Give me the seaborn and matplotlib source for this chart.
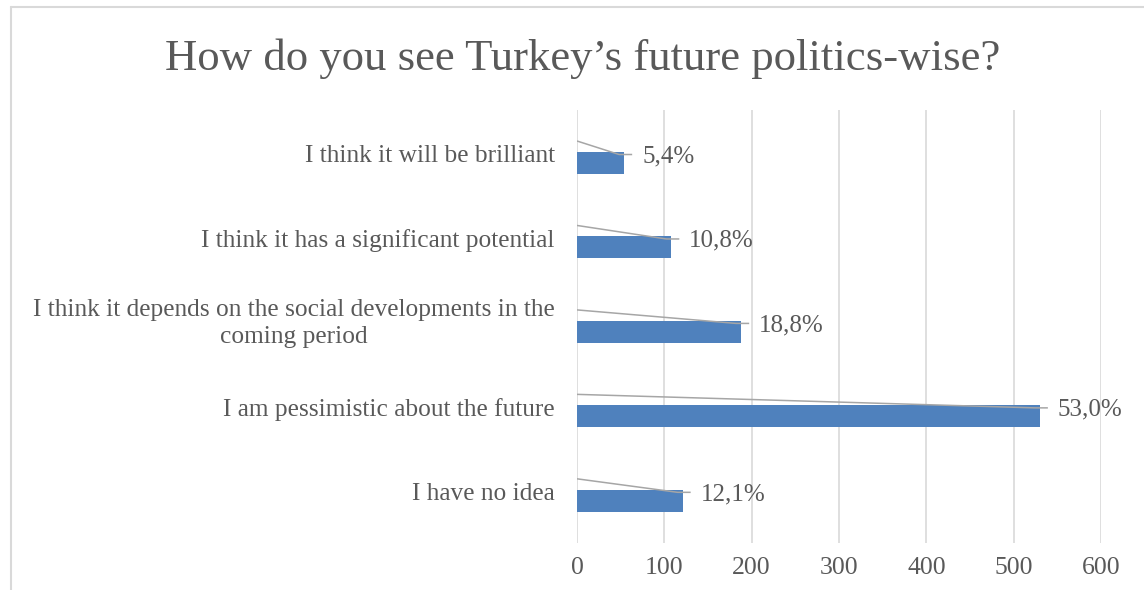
import matplotlib
matplotlib.use("Agg")
import matplotlib.pyplot as plt
from matplotlib.lines import Line2D
from matplotlib.transforms import ScaledTranslation
import pandas as pd
import seaborn as sns

# Survey responses
title = "How do you see Turkey’s future politics-wise?"
categories = [
    "I think it will be brilliant",
    "I think it has a significant potential",
    "I think it depends on the social developments in the\ncoming period",
    "I am pessimistic about the future",
    "I have no idea",
]
counts = [54, 108, 188, 530, 121]
percent_labels = ["5,4%", "10,8%", "18,8%", "53,0%", "12,1%"]
x_ticks = [0, 100, 200, 300, 400, 500, 600]

sns.set_theme(style="white")
plt.rcParams["font.family"] = ["Liberation Serif", "DejaVu Serif"]

TEXT = "#595959"
GRID = "#d9d9d9"
BAR = "#4f81bd"
LEADER = "#a6a6a6"

W, H, DPI = 1144, 590, 100
fig = plt.figure(figsize=(W / DPI, H / DPI), dpi=DPI)
fig.patch.set_facecolor("white")
ax = fig.add_axes([577 / W, 47 / H, 524 / W, 433 / H])

df = pd.DataFrame({"category": categories, "count": counts})
sns.barplot(data=df, x="count", y="category", orient="h", color=BAR,
            saturation=1, width=0.26, linewidth=0, ax=ax, zorder=2)

ax.set_xlim(x_ticks[0], x_ticks[-1])
ax.set_ylim(4.5, -0.627)
ax.set_xticks(x_ticks)
ax.set_xlabel("")
ax.set_ylabel("")
for s in ax.spines.values():
    s.set_visible(False)
ax.grid(axis="x", color=GRID, lw=1.2)
ax.grid(axis="y", visible=False)
ax.set_axisbelow(True)
ax.tick_params(length=0)
ax.tick_params(axis="x", pad=10, labelsize=18.5, labelcolor=TEXT)
ax.tick_params(axis="y", pad=16, labelsize=18.3, labelcolor=TEXT)

# category labels sit slightly above their bars; wrapped ones a bit more
for lbl in ax.get_yticklabels():
    lbl.set_multialignment("center")
    lbl.set_linespacing(1.3)
    up = 13 if "\n" in lbl.get_text() else 9
    lbl.set_transform(lbl.get_transform()
                      + ScaledTranslation(0, up / DPI, fig.dpi_scale_trans))

# pixel -> data conversion along x
xu = (x_ticks[-1] - x_ticks[0]) / (ax.get_position().width * W)

for i, (v, lab) in enumerate(zip(counts, percent_labels)):
    ax.plot([0, v - 5 * xu, v + 8 * xu], [i - 0.26, i - 0.1, i - 0.1],
            color=LEADER, lw=1.1, zorder=3, solid_capstyle="butt")
    ax.annotate(lab, xy=(v, i - 0.08), xytext=(18, 0), textcoords="offset pixels",
                ha="left", va="center", fontsize=18, color=TEXT, zorder=4)

fig.text(583 / W, 1 - 70 / H, title, ha="center", va="baseline",
         fontsize=32.2, color=TEXT)

# chart frame (top and left edges)
fig.add_artist(Line2D([10.5 / W, 1], [1 - 6.5 / H] * 2, transform=fig.transFigure,
                      color=GRID, lw=1.5))
fig.add_artist(Line2D([10.5 / W] * 2, [1 - 6.5 / H, 0], transform=fig.transFigure,
                      color=GRID, lw=1.5))

fig.savefig("out.png", dpi=DPI, facecolor="white")
